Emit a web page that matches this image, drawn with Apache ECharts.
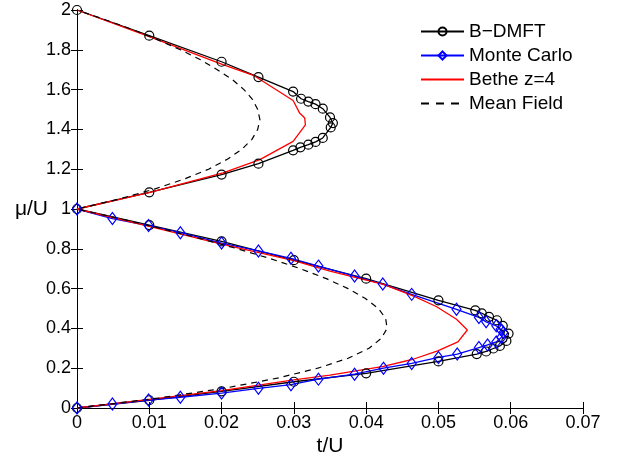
<!DOCTYPE html>
<html>
<head>
<meta charset="utf-8">
<script src="https://cdn.jsdelivr.net/npm/echarts@6/dist/echarts.min.js"></script>
<style>
  html, body { margin: 0; padding: 0; background: #fff; }
  #chart { width: 626px; height: 462px; }
</style>
</head>
<body>
<div id="chart"></div>
<script>
// B-DMFT: lower lobe (0 -> 1) then upper lobe (1 -> 2)
var bdmftT = [0, 0.01, 0.02, 0.03, 0.04, 0.05, 0.0553, 0.0566, 0.0576, 0.0585, 0.0594, 0.0597, 0.0589, 0.0581, 0.057, 0.056, 0.0551, 0.05, 0.04, 0.03, 0.02, 0.01, 0,
              0.01, 0.02, 0.0251, 0.0299, 0.0309, 0.032, 0.033, 0.034, 0.0351, 0.0354, 0.035, 0.034, 0.033, 0.032, 0.031, 0.0299, 0.0251, 0.02, 0.01, 0];
var bdmftMu = [0, 0.039, 0.084, 0.132, 0.174, 0.234, 0.271, 0.284, 0.299, 0.312, 0.337, 0.374, 0.413, 0.441, 0.458, 0.476, 0.491, 0.541, 0.65, 0.743, 0.837, 0.919, 1,
               1.084, 1.173, 1.228, 1.295, 1.31, 1.323, 1.337, 1.357, 1.41, 1.432, 1.46, 1.504, 1.527, 1.54, 1.554, 1.59, 1.663, 1.74, 1.871, 2];

// Monte Carlo: lower lobe only
var mcT = [0, 0.0049, 0.0099, 0.0143, 0.02, 0.0251, 0.0296, 0.0334, 0.0384, 0.0424, 0.0463, 0.05, 0.0526, 0.0556, 0.0568, 0.058, 0.0587, 0.059,
           0.0586, 0.058, 0.0566, 0.0556, 0.0525, 0.0463, 0.0423, 0.0384, 0.0334, 0.0296, 0.0251, 0.02, 0.0143, 0.0099, 0.0049, 0];
var mcMu = [0, 0.02, 0.04, 0.054, 0.075, 0.099, 0.117, 0.145, 0.17, 0.2, 0.224, 0.254, 0.271, 0.304, 0.317, 0.332, 0.354, 0.379,
            0.396, 0.413, 0.433, 0.455, 0.496, 0.571, 0.623, 0.663, 0.713, 0.752, 0.789, 0.829, 0.881, 0.917, 0.952, 1];

// Bethe lattice z=4
var betheT = [0, 0.01, 0.02, 0.03, 0.035, 0.0424, 0.0465, 0.0499, 0.0527, 0.054, 0.0525, 0.0497, 0.0465, 0.0424, 0.035, 0.03, 0.02, 0.01, 0,
              0.0101, 0.0202, 0.0253, 0.0299, 0.0316, 0.0315, 0.0308, 0.0299, 0.0244, 0.02, 0.01, 0];
var betheMu = [0, 0.043, 0.087, 0.141, 0.165, 0.209, 0.245, 0.287, 0.332, 0.392, 0.446, 0.51, 0.563, 0.621, 0.688, 0.74, 0.823, 0.913, 1,
               1.084, 1.181, 1.248, 1.34, 1.423, 1.457, 1.482, 1.545, 1.672, 1.728, 1.866, 2];

// Mean field
var mfT = [0, 0.0113, 0.0205, 0.0277, 0.0333, 0.0375, 0.0404, 0.0421, 0.0429, 0.0427, 0.0417, 0.0399, 0.0375, 0.0345, 0.0309, 0.0268, 0.0222, 0.0172, 0.0118, 0.0061, 0,
           0.0058, 0.0107, 0.0148, 0.0182, 0.0208, 0.0228, 0.0242, 0.025, 0.0253, 0.025, 0.0243, 0.0231, 0.0215, 0.0194, 0.0171, 0.0143, 0.0112, 0.0078, 0.004, 0];
var mfMu = [0, 0.05, 0.1, 0.15, 0.2, 0.25, 0.3, 0.35, 0.4, 0.45, 0.5, 0.55, 0.6, 0.65, 0.7, 0.75, 0.8, 0.85, 0.9, 0.95, 1,
            1.05, 1.1, 1.15, 1.2, 1.25, 1.3, 1.35, 1.4, 1.45, 1.5, 1.55, 1.6, 1.65, 1.7, 1.75, 1.8, 1.85, 1.9, 1.95, 2];

var seriesNames = ['B\u2212DMFT', 'Monte Carlo', 'Bethe z=4', 'Mean Field'];

function pairs(xs, ys) {
  var out = [];
  for (var i = 0; i < xs.length; i++) out.push([xs[i], ys[i]]);
  return out;
}

var font = 'Liberation Sans, Arial, Helvetica, sans-serif';
var chart = echarts.init(document.getElementById('chart'), null, { renderer: 'canvas' });

var mirrorAxis = {
  axisLine: { show: true, lineStyle: { color: '#000', width: 1 } },
  axisTick: { show: true, inside: true, length: 6, lineStyle: { color: '#000' } },
  axisLabel: { show: false },
  splitLine: { show: false }
};
var noMarker = { color: 'rgba(0,0,0,0)', borderWidth: 0, opacity: 0 };

chart.setOption({
  animation: false,
  backgroundColor: '#fff',
  grid: { left: 77, right: 43, top: 10, bottom: 53 },
  legend: {
    orient: 'vertical',
    left: 415,
    top: 17,
    itemWidth: 43,
    itemHeight: 10,
    itemGap: 5,
    textStyle: { fontFamily: font, fontSize: 19, color: '#000' },
    data: [
      { name: seriesNames[0] },
      { name: seriesNames[1] },
      { name: seriesNames[2], itemStyle: noMarker },
      { name: seriesNames[3], itemStyle: noMarker, lineStyle: { type: [8, 7] } }
    ]
  },
  xAxis: [{
    type: 'value',
    min: 0, max: 0.07, interval: 0.01,
    name: 't/U',
    nameLocation: 'middle',
    nameGap: 28,
    nameMoveOverlap: false,
    nameTextStyle: { fontFamily: font, fontSize: 21, color: '#000' },
    axisLine: { show: true, onZero: false, lineStyle: { color: '#000', width: 1 } },
    axisTick: { show: true, inside: true, length: 6, lineStyle: { color: '#000' } },
    axisLabel: { fontFamily: font, fontSize: 18, color: '#000', margin: 6, showMinLabel: true, showMaxLabel: true },
    splitLine: { show: false }
  }, Object.assign({ type: 'value', position: 'top', min: 0, max: 0.07, interval: 0.01 }, mirrorAxis)],
  yAxis: [{
    type: 'value',
    min: 0, max: 2, interval: 0.2,
    name: '\u03bc/U',
    nameLocation: 'middle',
    nameRotate: 0,
    nameGap: 29,
    nameMoveOverlap: false,
    nameTextStyle: { fontFamily: font, fontSize: 21, color: '#000', padding: [10, 0, 0, 0] },
    axisLine: { show: true, onZero: false, lineStyle: { color: '#000', width: 1 } },
    axisTick: { show: true, inside: true, length: 6, lineStyle: { color: '#000' } },
    axisLabel: { fontFamily: font, fontSize: 18, color: '#000', margin: 6 },
    splitLine: { show: false }
  }, Object.assign({ type: 'value', position: 'right', min: 0, max: 2, interval: 0.2 }, mirrorAxis)],
  series: [
    {
      name: seriesNames[0], type: 'line',
      data: pairs(bdmftT, bdmftMu),
      symbol: 'circle', symbolSize: 9,
      itemStyle: { color: 'rgba(255,255,255,0)', borderColor: '#000', borderWidth: 1.2 },
      lineStyle: { color: '#000', width: 1.3 }
    },
    {
      name: seriesNames[1], type: 'line',
      data: pairs(mcT, mcMu),
      symbol: 'diamond', symbolSize: [9, 12],
      itemStyle: { color: 'rgba(255,255,255,0)', borderColor: '#0000ff', borderWidth: 1.2 },
      lineStyle: { color: '#0000ff', width: 1.3 }
    },
    {
      name: seriesNames[2], type: 'line',
      data: pairs(betheT, betheMu),
      symbol: 'none', showSymbol: false,
      itemStyle: { color: '#ff0000' },
      lineStyle: { color: '#ff0000', width: 1.3 }
    },
    {
      name: seriesNames[3], type: 'line',
      data: pairs(mfT, mfMu),
      symbol: 'none', showSymbol: false,
      itemStyle: { color: '#000' },
      lineStyle: { color: '#000', width: 1.2, type: [6, 5] }
    }
  ]
});

window.addEventListener('resize', function () { chart.resize(); });
</script>
</body>
</html>
